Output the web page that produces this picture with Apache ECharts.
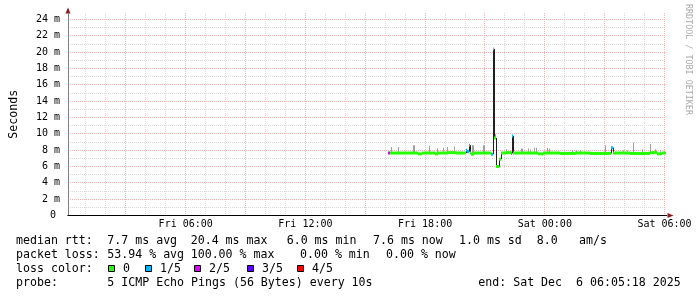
<!DOCTYPE html>
<html><head><meta charset="utf-8">
<script src="https://cdn.jsdelivr.net/npm/echarts@6/dist/echarts.min.js"></script>
<style>html,body{margin:0;padding:0;background:#fff}#c{width:697px;height:297px}</style>
</head><body><div id="c"></div>
<script>
// ---------------- data (hours since Fri 00:00, milliseconds) ----------------
const xRange = [0.1, 30.1];
const yRange = [0, 24.8];
const xTickHours = [6, 12, 18, 24, 30];
const xTickLabels = ['Fri 06:00', 'Fri 12:00', 'Fri 18:00', 'Sat 00:00', 'Sat 06:00'];
const xMinorHours = [1, 2, 4, 5, 7, 8, 10, 11, 13, 14, 16, 17, 19, 20, 22, 23, 25, 26, 28, 29];
const xMajorHours = [3, 6, 9, 12, 15, 18, 21, 24, 27, 30];
const yTickValues = [0, 2, 4, 6, 8, 10, 12, 14, 16, 18, 20, 22, 24];
const yTickLabels = ['0', '2 m', '4 m', '6 m', '8 m', '10 m', '12 m', '14 m', '16 m', '18 m', '20 m', '22 m', '24 m'];
const yMinorValues = [1, 3, 5, 7, 9, 11, 13, 15, 17, 19, 21, 23];
const yMajorValues = [2, 4, 6, 8, 10, 12, 14, 16, 18, 20, 22, 24];

// median rtt: each value holds from its start time until the next one
const medTime  = [16.15, 16.25, 17.65, 17.85, 18.5, 18.65, 19.15, 19.55, 20.05, 20.15, 20.25, 20.3, 20.35, 20.5,
                  21.35, 21.45, 21.5, 21.6, 21.75, 21.85, 22.1, 22.35, 22.4, 22.45, 23.7, 23.95, 24.8, 25.55,
                  26.3, 27.35, 27.45, 28.3, 29.3, 29.65, 29.9];
const medValue = [7.65, 7.65, 7.55, 7.65, 7.55, 7.65, 7.7, 7.65, 8.0, 7.8, 8.6, 7.65, 7.5, 7.65,
                  7.5, 20.4, 9.5, 6.0, 6.9, 7.65, 7.7, 7.6, 9.75, 7.65, 7.55, 7.65, 7.6, 7.65,
                  7.6, 8.3, 7.65, 7.6, 7.7, 7.55, 7.65];
const medLoss  = [2, 0, 0, 0, 0, 0, 0, 0, 1, 1, 1, 0, 0, 0,
                  1, 0, 0, 0, 0, 0, 0, 1, 1, 0, 0, 0, 0, 0,
                  0, 1, 0, 0, 0, 0, 0];
const medEnd = 30.1;

// smoke (spread of the individual pings)
const smokeTime = [16.3, 16.65, 17.4, 17.45, 18.2, 18.6, 18.9, 19.1, 19.45, 20.4, 20.45, 20.95, 21.0, 21.55,
                   22.1, 22.85, 22.9, 23.2, 23.3, 23.5, 23.6, 24.15, 24.25, 25.4, 25.6, 25.8, 27.05, 27.95,
                   28.15, 28.45, 28.9, 29.3, 29.55, 29.8];
const smokeLow  = [7.6, 7.6, 7.6, 7.6, 7.6, 7.6, 7.6, 7.6, 7.6, 7.6, 7.6, 7.6, 7.6, 9.4,
                   7.6, 7.6, 7.6, 7.6, 7.6, 7.6, 7.6, 7.6, 7.6, 7.6, 7.6, 7.6, 7.6, 7.6,
                   7.6, 7.6, 7.6, 7.6, 7.6, 7.6];
const smokeHigh = [8.4, 8.4, 8.6, 8.6, 8.55, 8.25, 8.3, 8.4, 8.45, 8.6, 8.6, 8.6, 8.6, 10.0,
                   8.1, 8.2, 8.2, 8.2, 8.1, 8.3, 8.3, 8.3, 8.2, 8.0, 8.0, 8.0, 8.6, 8.0,
                   8.0, 8.9, 8.1, 8.75, 8.1, 8.0];

const lossColors = ['#26ff00', '#00b8ff', '#dd00ff', '#5e00ff', '#ff0000'];
const lossLabels = ['0', '1/5', '2/5', '3/5', '4/5'];
const rttStats  = ['7.7 ms avg', '20.4 ms max', '6.0 ms min', '7.6 ms now', '1.0 ms sd', '8.0', 'am/s'];
const lossStats = ['53.94 % avg', '100.00 % max', '0.00 % min', '0.00 % now'];
const probeText = '5 ICMP Echo Pings (56 Bytes) every 10s';
const endText   = 'end: Sat Dec  6 06:05:18 2025';

// ---------------- chart ----------------
const FONT = '"DejaVu Sans Mono", monospace';
const chart = echarts.init(document.getElementById('c'), null, {renderer: 'canvas'});

const gridData = [];
xMinorHours.forEach(v => gridData.push([v, 0, 0]));
yMinorValues.forEach(v => gridData.push([v, 1, 0]));
xMajorHours.forEach(v => gridData.push([v, 0, 1]));
yMajorValues.forEach(v => gridData.push([v, 1, 1]));

const lossData = medTime.map((t, i) => [t, i + 1 < medTime.length ? medTime[i + 1] : medEnd, medValue[i], medLoss[i]]);
const stepData = medTime.slice(1).map((t, i) => [t, medValue[i], medValue[i + 1]]);
const smokeData = smokeTime.map((t, i) => [t, smokeLow[i], smokeHigh[i]]);

const hidden = {axisLabel: {show: false}, axisTick: {show: false}, splitLine: {show: false}};

const option = {
  animation: false,
  backgroundColor: '#ffffff',
  grid: {left: 66.5, right: 30.5, top: 215.5 - 24.8 * 196 / 24, bottom: 81.5, containLabel: false},
  xAxis: [
    {type: 'value', min: xRange[0], max: xRange[1], position: 'bottom', z: 3,
     axisLine: {show: true, lineStyle: {color: '#000000', width: 1}},
     axisTick: {show: false}, splitLine: {show: false},
     axisLabel: {customValues: xTickHours, formatter: v => xTickLabels[xTickHours.indexOf(v)] || '',
                 fontFamily: FONT, fontSize: 10, color: '#000', margin: 4}},
    Object.assign({type: 'value', min: xRange[0], max: xRange[1], position: 'bottom', offset: 0, z: 2,
     axisLine: {show: true, symbol: ['none', 'triangle'], symbolSize: [5, 6], symbolOffset: [0, 4],
                lineStyle: {color: '#8b1a1a', width: 1}}}, hidden)
  ],
  yAxis: [
    {type: 'value', min: yRange[0], max: yRange[1], position: 'left', z: 3,
     axisLine: {show: true, lineStyle: {color: '#808080', width: 1}},
     axisTick: {show: false}, splitLine: {show: false},
     axisLabel: {customValues: yTickValues,
                 formatter: v => v === 0 ? '{z|0}' : yTickLabels[yTickValues.indexOf(v)],
                 rich: {z: {fontFamily: FONT, fontSize: 10, color: '#000', padding: [0, 4, 0, 0]}},
                 fontFamily: FONT, fontSize: 10, color: '#000', margin: 8},
     name: 'Seconds', nameLocation: 'middle', nameGap: 48, nameRotate: 90,
     nameTextStyle: {fontFamily: FONT, fontSize: 11.6, color: '#000'}},
    Object.assign({type: 'value', min: yRange[0], max: yRange[1], position: 'left', offset: 0, z: 2,
     axisLine: {show: true, symbol: ['none', 'triangle'], symbolSize: [5, 6], symbolOffset: [0, 2.5],
                lineStyle: {color: '#8b1a1a', width: 1}}}, hidden)
  ],
  series: [
    {type: 'custom', name: 'grid', z: 1, silent: true, clip: false, data: gridData,
     renderItem: (params, api) => {
       const cs = params.coordSys;
       const v = api.value(0), horiz = api.value(1), major = api.value(2);
       const style = {stroke: major ? '#ebb8b8' : '#dadada', lineWidth: 1, lineDash: [1, 1], fill: null};
       if (horiz) {
         const y = Math.floor(api.coord([xRange[0], v])[1]) + 0.5;
         return {type: 'line', shape: {x1: cs.x, y1: y, x2: cs.x + cs.width, y2: y}, style};
       }
       const x = Math.floor(api.coord([v, 0])[0]) + 0.5;
       return {type: 'line', shape: {x1: x, y1: cs.y, x2: x, y2: cs.y + cs.height}, style};
     }},
    {type: 'custom', name: 'smoke', z: 2, silent: true, data: smokeData,
     renderItem: (params, api) => {
       const top = api.coord([api.value(0), api.value(2)]);
       const bot = api.coord([api.value(0), api.value(1)]);
       return {type: 'rect', shape: {x: Math.floor(top[0]), y: top[1], width: 1, height: bot[1] - top[1]},
               style: {fill: '#a0a0a0'}};
     }},
    {type: 'custom', name: 'median', z: 3, silent: true, data: stepData,
     renderItem: (params, api) => {
       const a = api.coord([api.value(0), api.value(1)]);
       const b = api.coord([api.value(0), api.value(2)]);
       const x = Math.floor(a[0]) + 0.5;
       return {type: 'line', shape: {x1: x, y1: a[1], x2: x, y2: b[1]},
               style: {stroke: '#202020', lineWidth: 1, fill: null}};
     }},
    {type: 'custom', name: 'loss', z: 4, silent: true, data: lossData,
     renderItem: (params, api) => {
       const a = api.coord([api.value(0), api.value(2)]);
       const b = api.coord([api.value(1), api.value(2)]);
       const x0 = Math.floor(a[0]), x1 = Math.floor(b[0]);
       return {type: 'rect', shape: {x: x0, y: a[1] - 1.5, width: Math.max(1, x1 - x0), height: 3},
               style: {fill: lossColors[api.value(3)]}};
     }}
  ],
  graphic: []
};

// legend / stats block
const txt = (x, y, s, extra) => Object.assign({type: 'text', x: x, y: y, silent: true,
  style: {text: s, font: '11.6px ' + FONT, fill: '#000', align: 'left', verticalAlign: 'middle'}}, extra || {});
const g = option.graphic;
const rowY = [241, 255, 269, 283];
g.push(txt(16, rowY[0], 'median rtt:'));
[107.3, 190.7, 286.7, 373, 459, 536.7, 579].forEach((x, i) => g.push(txt(x, rowY[0], rttStats[i])));
g.push(txt(16, rowY[1], 'packet loss:'));
[107.3, 190.7, 300, 386].forEach((x, i) => g.push(txt(x, rowY[1], lossStats[i])));
g.push(txt(16, rowY[2], 'loss color:'));
[108.5, 145.5, 194.5, 247.5, 297.5].forEach((x, i) => {
  g.push({type: 'rect', silent: true, shape: {x: x, y: rowY[2] - 3.5, width: 6, height: 6},
          style: {fill: lossColors[i], stroke: '#000', lineWidth: 1}});
  g.push(txt(x + 14.5, rowY[2], lossLabels[i]));
});
g.push(txt(16, rowY[3], 'probe:'));
g.push(txt(107.3, rowY[3], probeText));
g.push(txt(478.3, rowY[3], endText));
// watermark
g.push({type: 'text', x: 688, y: 4, rotation: -Math.PI / 2, silent: true,
        style: {text: 'RRDTOOL / TOBI OETIKER', font: '8.4px ' + FONT, fill: '#ababab', align: 'left', verticalAlign: 'middle'}});

chart.setOption(option);
</script>
</body></html>
